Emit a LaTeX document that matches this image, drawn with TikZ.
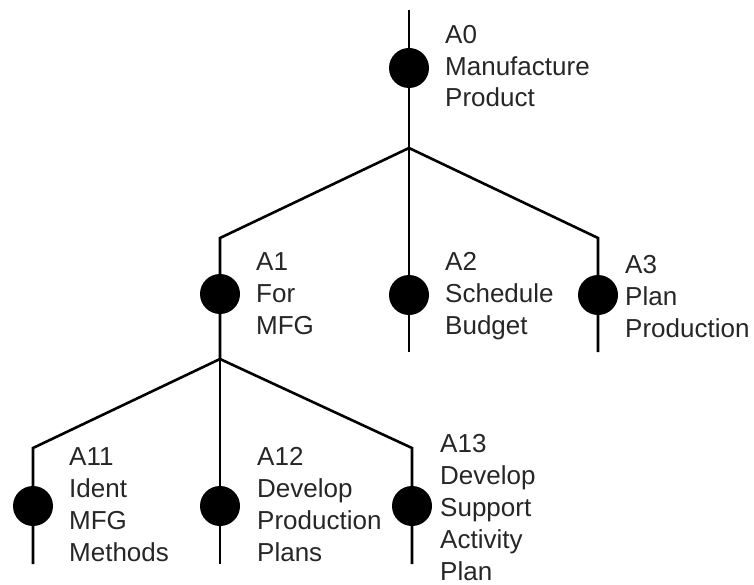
\documentclass[tikz,border=0pt]{standalone}
\usepackage{fontspec}
\setmainfont{Liberation Sans}
\begin{document}
\begin{tikzpicture}[x=1pt,y=-1pt,
  link/.style={line width=2.6pt},
  act/.style={circle, fill=black, minimum size=40pt, inner sep=0pt},
  lbl/.style={anchor=base west, align=left, inner sep=0pt, text=black!85,
    font=\fontsize{26}{31.8}\selectfont}]
\useasboundingbox (0,0) rectangle (754,585);
% coordinates
\coordinate (t0) at (409,10);
\coordinate (j0) at (409,148);
\coordinate (c1) at (220,238);
\coordinate (j1) at (220,359);
\coordinate (b2) at (409,352);
\coordinate (c3) at (598,238);
\coordinate (b3) at (598,352);
\coordinate (c11) at (33,448);
\coordinate (b11) at (33,564);
\coordinate (b12) at (220,564);
\coordinate (c13) at (412,448);
\coordinate (b13) at (412,564);
% activity nodes
\node[act] (a0) at (409,68) {};
\node[act] (a1) at (220,294) {};
\node[act] (a2) at (409,295) {};
\node[act] (a3) at (598,295) {};
\node[act] (a11) at (33,506) {};
\node[act] (a12) at (220,506) {};
\node[act] (a13) at (412,506) {};
% connectors
\draw[link] (t0) -- (a0) -- (j0);
\draw[link] (j0) -- (c1) -- (a1) -- (j1);
\draw[link] (j0) -- (a2) -- (b2);
\draw[link] (j0) -- (c3) -- (a3) -- (b3);
\draw[link] (j1) -- (c11) -- (a11) -- (b11);
\draw[link] (j1) -- (a12) -- (b12);
\draw[link] (j1) -- (c13) -- (a13) -- (b13);
% labels (anchor = baseline of last line)
\node[lbl] (l0) at (445,107) {A0\\Manufacture\\Product};
\node[lbl] (l1) at (256,334) {A1\\For\\MFG};
\node[lbl] (l2) at (445,334) {A2\\Schedule\\Budget};
\node[lbl] (l3) at (625,337) {A3\\Plan\\Production};
\node[lbl] (l11) at (69,561) {A11\\Ident\\MFG\\Methods};
\node[lbl] (l12) at (257,561) {A12\\Develop\\Production\\Plans};
\node[lbl] (l13) at (440,580) {A13\\Develop\\Support\\Activity\\Plan};
\end{tikzpicture}
\end{document}
